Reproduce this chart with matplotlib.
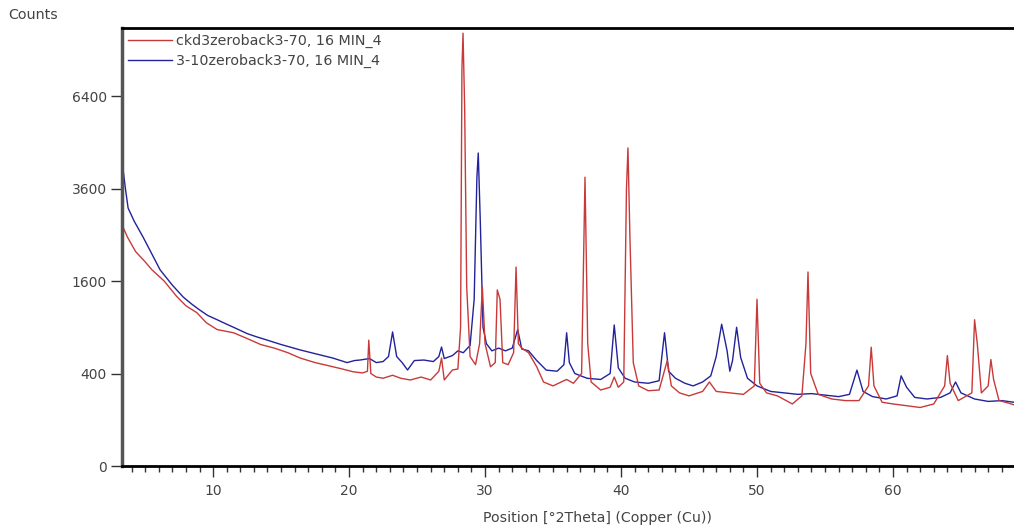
import matplotlib
matplotlib.use("Agg")
import matplotlib.pyplot as plt
import numpy as np

# ---- data (2Theta, counts) ----
red_label = "ckd3zeroback3-70, 16 MIN_4"
blue_label = "3-10zeroback3-70, 16 MIN_4"

red_x = [3.3, 3.4, 3.7, 4.3, 5.0, 5.5, 6.4, 7.3, 8.0, 8.8, 9.5, 10.3, 11.5, 12.5, 13.5,
         14.5, 15.5, 16.4, 17.5, 18.5, 19.5, 20.3, 21.0, 21.35, 21.45, 21.6, 22.0, 22.5,
         23.2, 23.8, 24.5, 25.3, 26.0, 26.6, 26.8, 27.0, 27.6, 28.0, 28.2, 28.3, 28.38,
         28.5, 28.65, 28.9, 29.3, 29.6, 29.8, 30.0, 30.4, 30.75, 30.9, 31.1, 31.3, 31.7,
         32.1, 32.28, 32.45, 32.7, 33.2, 33.8, 34.3, 35.0, 35.6, 36.0, 36.5, 37.1, 37.35,
         37.55, 37.8, 38.5, 39.2, 39.5, 39.8, 40.2, 40.4, 40.51, 40.65, 40.9, 41.3, 42.0,
         42.8, 43.4, 43.7, 44.3, 45.0, 46.0, 46.5, 47.0, 48.0, 49.0, 49.8, 50.0, 50.2,
         50.7, 51.5, 52.6, 53.3, 53.6, 53.75, 53.95, 54.5, 55.5, 56.5, 57.5, 58.2, 58.4,
         58.6, 59.2, 60.0, 61.0, 62.0, 63.0, 63.8, 64.0, 64.2, 64.8, 65.8, 66.0, 66.2,
         66.5, 67.0, 67.2, 67.4, 67.8, 68.5, 68.9]
red_y = [3150, 2650, 2450, 2150, 1950, 1800, 1600, 1350, 1200, 1100, 960, 870, 830, 760, 690,
         650, 600, 545, 500, 470, 440, 415, 405, 420, 740, 400, 370, 360,
         385, 360, 346, 370, 346, 420, 545, 346, 431, 440, 900, 7400, 8760,
         6000, 1500, 560, 480, 700, 1500, 700, 460, 500, 1450, 1300, 500, 480,
         600, 1850, 700, 650, 600, 460, 330, 300, 330, 350, 320, 400, 3900,
         700, 330, 270, 290, 370, 290, 330, 3600, 4730, 2500, 500, 300, 265,
         270, 520, 300, 250, 230, 260, 330, 260, 250, 240, 300, 1300, 320,
         250, 230, 180, 230, 700, 1760, 400, 240, 210, 200, 200, 300, 660,
         300, 190, 180, 170, 160, 180, 300, 570, 320, 200, 250, 1000, 700,
         250, 300, 530, 350, 200, 185, 175]

blue_x = [3.3, 3.4, 3.55, 3.75, 4.2, 4.85, 5.5, 6.1, 7.0, 7.8, 8.4, 9.0, 9.6, 10.3, 11.0,
          11.5, 12.5, 13.2, 14.0, 15.0, 16.4, 17.5, 18.8, 19.85, 20.4, 20.8, 21.5, 22.0,
          22.5, 22.9, 23.2, 23.5, 23.9, 24.3, 24.8, 25.5, 26.2, 26.6, 26.8, 27.0, 27.6,
          28.0, 28.4, 28.9, 29.2, 29.4, 29.5, 29.65, 29.85, 30.1, 30.5, 31.0, 31.5, 32.0,
          32.4, 32.7, 33.2, 33.8, 34.5, 35.3, 35.8, 36.0, 36.2, 36.6, 37.5, 38.5, 39.2,
          39.5, 39.8, 40.3, 41.0, 42.0, 42.8, 43.2, 43.5, 44.0, 44.7, 45.3, 46.0, 46.6,
          47.0, 47.4, 47.8, 48.0, 48.2, 48.5, 48.8, 49.3, 50.0, 51.0, 52.0, 53.0, 54.0,
          55.0, 56.0, 56.8, 57.35, 57.8, 58.5, 59.5, 60.3, 60.6, 61.0, 61.6, 62.5, 63.5,
          64.2, 64.6, 65.0, 66.0, 67.0, 68.0, 68.9]
blue_y = [3900, 4050, 3600, 3110, 2800, 2450, 2100, 1800, 1530, 1335, 1230, 1140, 1060, 1000, 940,
          900, 820, 780, 740, 690, 630, 590, 545, 500, 520, 525, 540, 500,
          510, 560, 840, 560, 500, 431, 520, 525, 510, 560, 662, 540, 570,
          620, 600, 680, 1300, 3900, 4580, 2800, 900, 700, 620, 650, 620, 650,
          870, 640, 620, 520, 430, 420, 480, 830, 500, 400, 360, 350, 400,
          930, 450, 360, 330, 320, 340, 830, 420, 360, 320, 300, 330, 380,
          560, 940, 620, 420, 520, 900, 550, 360, 300, 260, 250, 240, 245,
          235, 225, 240, 430, 260, 225, 210, 230, 380, 290, 220, 210, 220,
          250, 330, 250, 210, 195, 200, 190]

x_ticks = [10, 20, 30, 40, 50, 60]
y_ticks = [0, 400, 1600, 3600, 6400]

W, H = 1014, 531
fig = plt.figure(figsize=(W / 100, H / 100), dpi=100)
ax = fig.add_axes([122 / W, (H - 466) / H, (W - 122) / W, (466 - 28) / H])

def fwd(v):
    return np.sqrt(np.clip(v, 0, None))

def inv(v):
    return np.square(v)

ax.set_yscale('function', functions=(fwd, inv))

red_c = '#c83a3a'
blue_c = '#22229a'
lb, = ax.plot(blue_x, blue_y, color=blue_c, lw=1.0)
lr, = ax.plot(red_x, red_y, color=red_c, lw=1.0)

ax.set_xlim(3.3, 68.9)
ax.set_ylim(0, 8970)
ax.set_xticks(x_ticks)
ax.set_xticks(np.arange(4, 69, 1), minor=True)
ax.set_yticks(y_ticks)
ax.set_yticklabels([str(v) for v in y_ticks])
ax.tick_params(axis='x', which='major', length=8, width=1, direction='out',
               labelsize=10, pad=5, colors='#333333', labelcolor='#444444')
ax.tick_params(axis='x', which='minor', length=4, width=1, direction='out', colors='#333333')
ax.tick_params(axis='y', which='major', length=8, width=1, direction='out',
               labelsize=10, pad=3, colors='#333333', labelcolor='#444444')
ax.tick_params(axis='y', which='minor', left=False)

for s in ['top', 'bottom']:
    ax.spines[s].set_linewidth(2)
    ax.spines[s].set_color('black')
ax.spines['left'].set_linewidth(2.5)
ax.spines['left'].set_color('#555555')
ax.spines['right'].set_visible(False)

leg = ax.legend([lr, lb], [red_label, blue_label], loc='upper left', frameon=False,
                fontsize=10.3, handlelength=3.1, handletextpad=0.25, borderaxespad=0.0,
                borderpad=0.4, labelspacing=0.4, bbox_to_anchor=(0.0, 1.0))
for t in leg.get_texts():
    t.set_color('#444444')

fig.text(8 / W, 1 - 15 / H, "Counts", fontsize=10.3, va='center', ha='left', color='#444444')
fig.text(597 / W, 1 - 518 / H, "Position [°2Theta] (Copper (Cu))", fontsize=10.2,
         va='center', ha='center', color='#444444')

fig.savefig("out.png", dpi=100)
